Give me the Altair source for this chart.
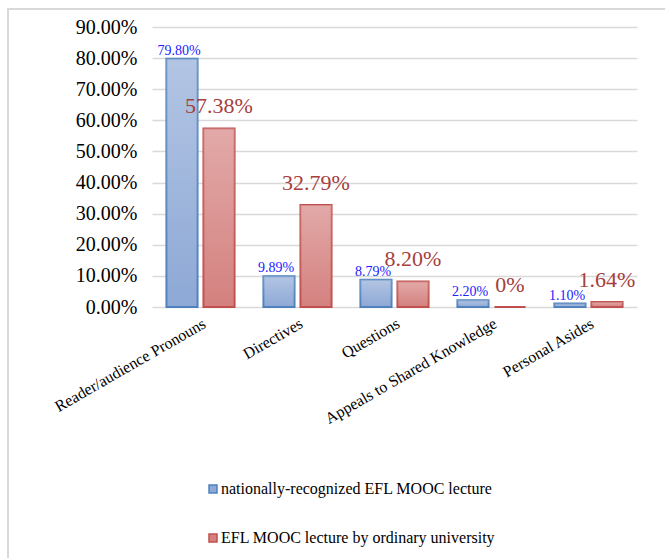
import altair as alt
import pandas as pd

categories = ["Reader/audience Pronouns", "Directives", "Questions",
              "Appeals to Shared Knowledge", "Personal Asides"]
series = ["nationally-recognized EFL MOOC lecture",
          "EFL MOOC lecture by ordinary university"]
national = [79.80, 9.89, 8.79, 2.20, 1.10]
ordinary = [57.38, 32.79, 8.20, 0.0, 1.64]
y_ticks = [0, 10, 20, 30, 40, 50, 60, 70, 80, 90]

rows = []
for c, a, b in zip(categories, national, ordinary):
    for s, v in ((series[0], a), (series[1], b)):
        rows.append({"category": c, "series": s, "value": v,
                     "label": ("%.2f%%" % v) if v else "0%"})
df = pd.DataFrame(rows)

SERIF = "Liberation Serif, Times New Roman, serif"

x = alt.X("category:N", sort=categories,
          scale=alt.Scale(paddingInner=0, paddingOuter=0),
          axis=alt.Axis(title=None, labelAngle=-30, labelAlign="right",
                        labelBaseline="top", labelFont=SERIF, labelFontSize=16,
                        labelColor="#000000", labelPadding=8, ticks=False,
                        domain=False, grid=False, labelLimit=0))
xo = alt.XOffset("series:N", sort=series,
                 scale=alt.Scale(domain=series, paddingInner=0.16, paddingOuter=0.39))
y = alt.Y("value:Q", scale=alt.Scale(domain=[0, 90], nice=False),
          axis=alt.Axis(values=y_ticks, title=None,
                        labelExpr="format(datum.value,'.2f')+'%'",
                        grid=True, gridColor="#D9D9D9", gridWidth=1.5,
                        domain=False, ticks=False, labelFont=SERIF,
                        labelFontSize=20, labelColor="#000000", labelPadding=15))

legend = alt.Legend(title=None, orient="none", legendX=53, legendY=454,
                    direction="vertical", symbolType="square", symbolSize=64,
                    symbolStrokeWidth=1.5, labelFont=SERIF, labelFontSize=16,
                    labelColor="#000000", rowPadding=33, labelOffset=0,
                    labelLimit=0)

base = alt.Chart(df)

bars = base.mark_bar(strokeWidth=2).encode(
    x=x, xOffset=xo, y=y,
    color=alt.Color("series:N", sort=series,
                    scale=alt.Scale(domain=series, range=["#8EA9D6", "#D4817F"]),
                    legend=legend),
    stroke=alt.Stroke("series:N", sort=series,
                      scale=alt.Scale(domain=series, range=["#4F81BD", "#C0504D"]),
                      legend=legend),
)

overlay = base.mark_bar(
    fill=alt.Gradient(gradient="linear", x1=0, y1=0, x2=0, y2=1,
                      stops=[alt.GradientStop(color="rgba(255,255,255,0.32)", offset=0),
                             alt.GradientStop(color="rgba(255,255,255,0)", offset=1)]),
    stroke="transparent",
).encode(x=x, xOffset=xo, y=y)

blue_text = base.transform_filter(alt.datum.series == series[0]).mark_text(
    font=SERIF, fontSize=14, color="#2222FF", baseline="middle", dy=-8, dx=-3
).encode(x=x, xOffset=xo, y=y, text="label:N")

red_text = base.transform_filter(alt.datum.series == series[1]).mark_text(
    font=SERIF, fontSize=22, color="#A5403E", baseline="middle", dy=-22
).encode(x=x, xOffset=xo, y=y, text="label:N")

frame = alt.Chart(alt.Data(values=[{"a": 1}])).mark_rect(
    fill="transparent", stroke="#D9D9D9", strokeWidth=2
).encode(x=alt.value(-144), x2=alt.value(540), y=alt.value(-18), y2=alt.value(560))

chart = alt.layer(frame, bars, overlay, blue_text, red_text).properties(
    width=485, height=280,
    autosize=alt.AutoSizeParams(type="none"),
    padding={"left": 152, "top": 27, "right": 28, "bottom": 251},
    background="white",
).configure_view(stroke="transparent", strokeWidth=0)

chart.save("out.html", embed_options={"renderer": "svg", "actions": False})
